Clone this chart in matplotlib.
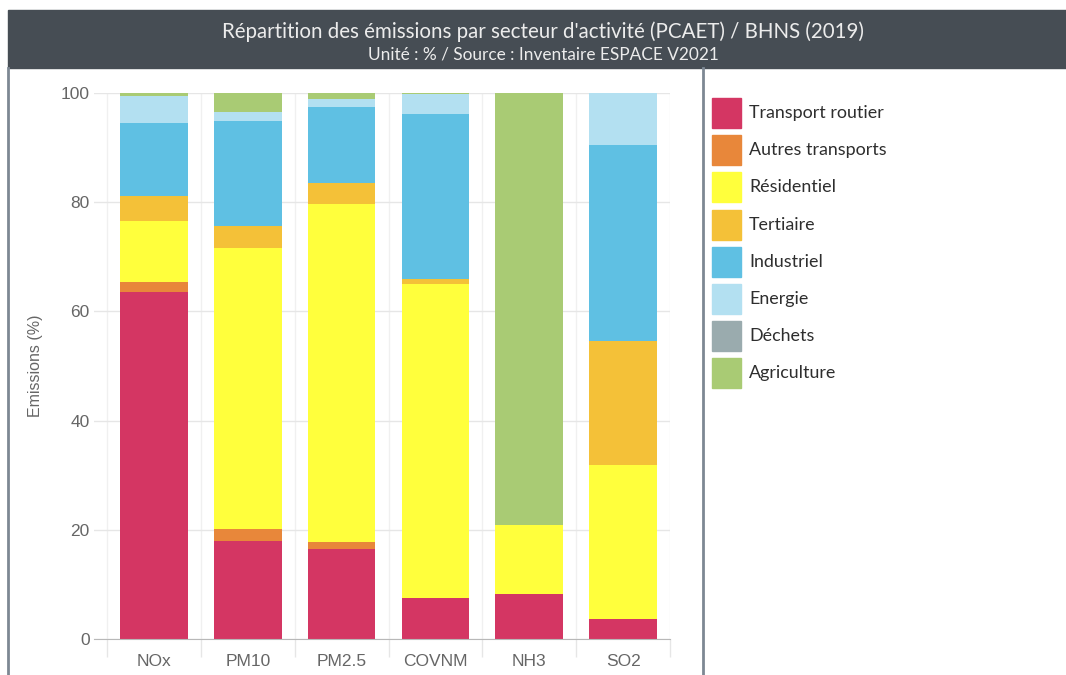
import matplotlib
matplotlib.use("Agg")
import matplotlib.pyplot as plt
import numpy as np

# data (%)
polluants = ["NOx", "PM10", "PM2.5", "COVNM", "NH3", "SO2"]
secteurs = ["Transport routier", "Autres transports", "Résidentiel", "Tertiaire",
            "Industriel", "Energie", "Déchets", "Agriculture"]
transport_routier = [63.6, 18.0, 16.4, 7.6, 8.2, 3.6]
autres_transports = [1.8, 2.1, 1.3, 0.0, 0.0, 0.0]
residentiel = [11.2, 51.5, 62.0, 57.4, 12.6, 28.3]
tertiaire = [4.5, 4.0, 3.9, 0.9, 0.0, 22.7]
industriel = [13.4, 19.2, 13.9, 30.3, 0.0, 35.8]
energie = [4.9, 1.7, 1.4, 3.6, 0.0, 9.6]
dechets = [0.0, 0.0, 0.0, 0.0, 0.0, 0.0]
agriculture = [0.6, 3.5, 1.1, 0.2, 79.2, 0.0]

couleurs = ["#d43663", "#e8873a", "#ffff3c", "#f4c138",
            "#5fc0e3", "#b3e0f1", "#9aabae", "#a9cb74"]

series = [transport_routier, autres_transports, residentiel, tertiaire,
          industriel, energie, dechets, agriculture]

W, H = 1066, 675
fig = plt.figure(figsize=(W / 100, H / 100), dpi=100)

def fx(px):
    return px / W

def fy(py):
    return 1 - py / H

# header band + frame lines
fig.patches.append(plt.Rectangle((fx(8), fy(68)), fx(W - 8), fy(10) - fy(68),
                                 transform=fig.transFigure, color="#464d54", zorder=0))
fig.lines.append(plt.Line2D([fx(8), fx(8)], [fy(68), 0], transform=fig.transFigure,
                            color="#7d8893", lw=2))
fig.lines.append(plt.Line2D([fx(703), fx(703)], [fy(68), 0], transform=fig.transFigure,
                            color="#7d8893", lw=2))
fig.text(fx(543), fy(32), "Répartition des émissions par secteur d'activité (PCAET) / BHNS (2019)",
         ha="center", va="center", color="#ececec", fontsize=14.8, family="Lato")
fig.text(fx(543), fy(54), "Unité : % / Source : Inventaire ESPACE V2021",
         ha="center", va="center", color="#ececec", fontsize=12.4, family="Lato")

ax = fig.add_axes([fx(94), fy(639), fx(670 - 94), fy(93) - fy(639)])
x = np.arange(len(polluants))
bottom = np.zeros(len(polluants))
for nom, vals, c in zip(secteurs, series, couleurs):
    ax.bar(x, vals, bottom=bottom, width=0.72, color=c, label=nom, zorder=3, linewidth=0)
    bottom += np.array(vals)

ax.set_xlim(-0.639, 5.5)
ax.set_ylim(0, 100)
ax.set_yticks([0, 20, 40, 60, 80, 100])
ax.set_xticks(x)
ax.set_xticklabels(polluants)
ax.set_xticks(np.arange(-0.5, 5.6, 1), minor=True)
ax.tick_params(axis="x", which="major", length=0, pad=11, labelsize=12.5, colors="#666666")
ax.tick_params(axis="x", which="minor", length=13, width=1, color="#e6e6e6")
ax.tick_params(axis="y", length=0, pad=3, labelsize=12.5, colors="#666666")
ax.grid(axis="y", color="#e6e6e6", lw=1, zorder=0)
ax.grid(axis="x", which="minor", color="#f0f0f0", lw=1, zorder=0)
for s in ["top", "right", "left"]:
    ax.spines[s].set_visible(False)
ax.spines["bottom"].set_color("#b8b8b8")
ax.spines["bottom"].set_zorder(4)
for t in ax.get_xticklabels() + ax.get_yticklabels():
    t.set_family("Liberation Sans")
ax.set_ylabel("Emissions (%)", fontsize=11.5, color="#666666", family="Liberation Sans")
ax.yaxis.set_label_coords(fx(43 - 94) / fx(576), 0.5)

# legend drawn as figure patches
for i, (nom, c) in enumerate(zip(secteurs, couleurs)):
    yc = 113 + i * 37.2
    fig.patches.append(plt.Rectangle((fx(712), fy(yc + 15)), fx(29), fy(yc - 15) - fy(yc + 15),
                                     transform=fig.transFigure, color=c))
    fig.text(fx(749), fy(yc), nom, ha="left", va="center", fontsize=12.9,
             color="#2e2e2e", family="Lato")

fig.savefig("out.png", dpi=100)
